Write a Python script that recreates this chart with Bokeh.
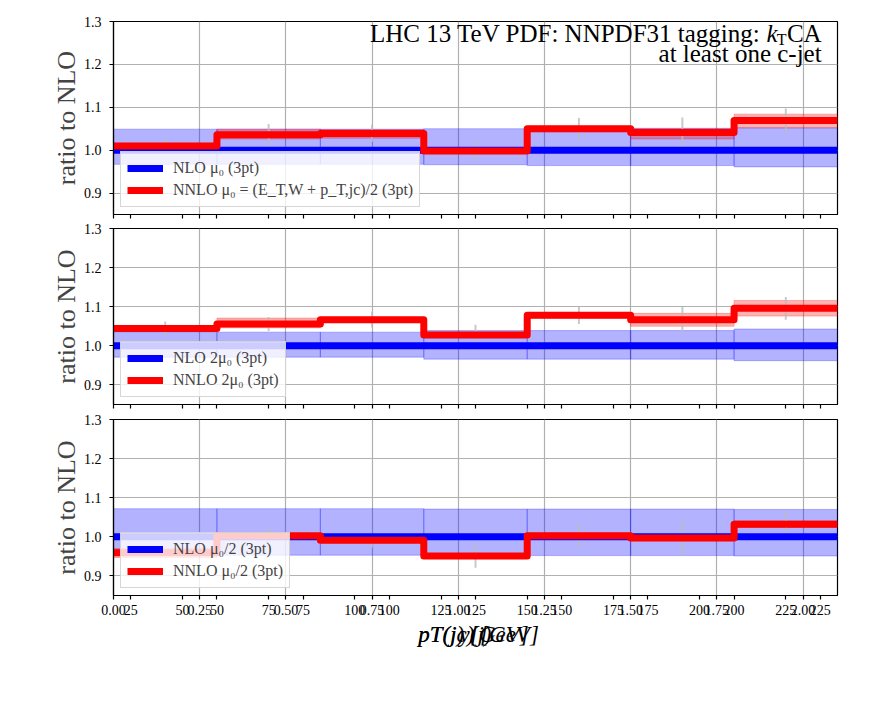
from bokeh.plotting import figure
from bokeh.layouts import column
from bokeh.models import Range1d, FixedTicker, PrintfTickFormatter, Label, Legend, LegendItem
from bokeh.core.properties import value
from bokeh.embed import file_html
from bokeh.resources import INLINE

FONT = "Liberation Serif"

# ---------------- data ----------------
bin_edges = [0.0, 0.3, 0.6, 0.9, 1.2, 1.5, 1.8, 2.1]

# panel 1: mu0
nlo1 = [1.0, 1.0, 1.0, 1.0, 1.0, 1.0, 1.0]
nlo1_lo = [0.967, 0.967, 0.967, 0.966, 0.964, 0.964, 0.961]
nlo1_hi = [1.049, 1.049, 1.049, 1.050, 1.051, 1.051, 1.052]
nnlo1 = [1.010, 1.036, 1.039, 0.998, 1.050, 1.041, 1.069]
nnlo1_lo = [1.004, 1.026, 1.028, 0.992, 1.043, 1.026, 1.052]
nnlo1_hi = [1.016, 1.049, 1.048, 1.005, 1.056, 1.050, 1.084]
nnlo1_err = [0.017, 0.025, 0.020, 0.023, 0.025, 0.035, 0.028]

# panel 2: 2 mu0
nlo2 = [1.0, 1.0, 1.0, 1.0, 1.0, 1.0, 1.0]
nlo2_lo = [0.971, 0.971, 0.971, 0.966, 0.966, 0.966, 0.962]
nlo2_hi = [1.035, 1.035, 1.035, 1.039, 1.039, 1.039, 1.043]
nnlo2 = [1.044, 1.056, 1.067, 1.028, 1.078, 1.067, 1.096]
nnlo2_lo = [1.038, 1.046, 1.061, 1.021, 1.071, 1.050, 1.076]
nnlo2_hi = [1.050, 1.071, 1.073, 1.035, 1.085, 1.083, 1.116]
nnlo2_err = [0.018, 0.018, 0.020, 0.026, 0.022, 0.033, 0.029]

# panel 3: mu0/2
nlo3 = [1.0, 1.0, 1.0, 1.0, 1.0, 1.0, 1.0]
nlo3_lo = [0.953, 0.953, 0.953, 0.952, 0.952, 0.952, 0.951]
nlo3_hi = [1.072, 1.072, 1.072, 1.071, 1.071, 1.071, 1.070]
nnlo3 = [0.959, 1.003, 0.991, 0.951, 1.003, 0.997, 1.032]
nnlo3_lo = [0.947, 0.998, 0.985, 0.945, 0.996, 0.990, 1.024]
nnlo3_hi = [0.970, 1.006, 0.995, 0.956, 1.010, 1.004, 1.041]
nnlo3_err = [0.015, 0.020, 0.018, 0.030, 0.030, 0.045, 0.030]

legend_nlo = ["NLO μ₀ (3pt)", "NLO 2μ₀ (3pt)", "NLO μ₀/2 (3pt)"]
legend_nnlo = ["NNLO μ₀ = (E_T,W + p_T,jc)/2 (3pt)", "NNLO 2μ₀ (3pt)", "NNLO μ₀/2 (3pt)"]

y_ticks = [0.9, 1.0, 1.1, 1.2, 1.3]
y_range = (0.85, 1.3)

# x tick labels: rapidity axis plus two overlaid pT axes (left over in the figure)
rap_ticks = [0.0, 0.25, 0.5, 0.75, 1.0, 1.25, 1.5, 1.75, 2.0]
ptB_ticks = [25, 50, 75, 100, 125, 150, 175, 200, 225]
ptB_range = (20, 230)
ptC_ticks = [50, 75, 100, 125, 150, 175, 200, 225]
ptC_range = (30, 240)

title_line1 = "LHC 13 TeV PDF: NNPDF31 tagging:"
title_k = "k"
title_sub = "T"
title_end = "CA"
title_line2 = "at least one c-jet"
xlabels = ["pT(j) [GeV]", "pT(jc) [GeV]", "y(j)"]
ylabel = "ratio to NLO"

# ---------------- tick mapping ----------------
x0, x1 = bin_edges[0], bin_edges[-1]


def to_rap(v, rng):
    return x0 + (v - rng[0]) / (rng[1] - rng[0]) * (x1 - x0)


tick_pos = []
tick_lab = {}
for t in rap_ticks:
    tick_pos.append(t)
    tick_lab[t] = "%.2f" % t
for t in ptB_ticks:
    p_ = to_rap(t, ptB_range)
    if x0 <= p_ <= x1:
        tick_pos.append(p_)
        tick_lab[p_] = str(t)
for t in ptC_ticks:
    p_ = to_rap(t, ptC_range)
    if x0 <= p_ <= x1:
        tick_pos.append(p_)
        tick_lab[p_] = str(t)
empty_lab = {k: "" for k in tick_lab}

centers = [(a + b) / 2 for a, b in zip(bin_edges[:-1], bin_edges[1:])]

LEFT = 113
FW = 724
RIGHT = 27


def panel(frame_h, top, bottom, nlo, nlo_lo, nlo_hi, nnlo, nnlo_lo, nnlo_hi, nnlo_err,
          lab_nlo, lab_nnlo, show_labels):
    p = figure(frame_width=FW, frame_height=frame_h,
               min_border_left=LEFT, min_border_right=RIGHT,
               min_border_top=top, min_border_bottom=bottom,
               x_range=Range1d(x0, x1), y_range=Range1d(*y_range),
               output_backend="svg", toolbar_location=None,
               background_fill_color="white", border_fill_color="white")
    p.outline_line_color = "black"
    p.outline_line_width = 1.2
    p.outline_line_alpha = 1.0

    # grid
    p.xgrid.ticker = FixedTicker(ticks=rap_ticks)
    p.ygrid.ticker = FixedTicker(ticks=y_ticks)
    for g in (p.xgrid, p.ygrid):
        g.grid_line_color = "#b0b0b0"
        g.grid_line_width = 1.2

    # axes
    p.xaxis.ticker = FixedTicker(ticks=tick_pos)
    p.yaxis.ticker = FixedTicker(ticks=y_ticks)
    p.yaxis.formatter = PrintfTickFormatter(format="%.1f")
    for ax in (p.xaxis, p.yaxis):
        ax.axis_line_color = "black"
        ax.axis_line_width = 1.2
        ax.major_tick_line_color = "black"
        ax.major_tick_line_width = 1.2
        ax.major_tick_out = 4
        ax.major_tick_in = 0
        ax.minor_tick_line_color = None
        ax.major_label_text_font = FONT
        ax.major_label_text_color = "black"
        ax.major_label_text_font_size = "14px"
    p.yaxis.major_label_standoff = 8
    p.yaxis.axis_label = ylabel
    p.yaxis.axis_label_text_font = FONT
    p.yaxis.axis_label_text_font_size = "26px"
    p.yaxis.axis_label_text_font_style = "normal"
    p.yaxis.axis_label_standoff = 0
    if show_labels:
        p.xaxis.major_label_overrides = tick_lab
        p.xaxis.major_label_standoff = 5
    else:
        p.xaxis.major_label_overrides = empty_lab
        p.xaxis.major_label_standoff = 0

    lefts = bin_edges[:-1]
    rights = bin_edges[1:]
    # bands
    p.quad(left=lefts, right=rights, bottom=nlo_lo, top=nlo_hi,
           fill_color="blue", fill_alpha=0.3, line_color="blue", line_alpha=0.25, line_width=1)
    p.quad(left=lefts, right=rights, bottom=nnlo_lo, top=nnlo_hi,
           fill_color="red", fill_alpha=0.3, line_color="red", line_alpha=0.25, line_width=1)
    # stat errors
    p.segment(x0=centers, x1=centers,
              y0=[v - e for v, e in zip(nnlo, nnlo_err)],
              y1=[v + e for v, e in zip(nnlo, nnlo_err)],
              line_color="#bbbbbb", line_width=2, line_alpha=0.8)
    # lines
    r_nlo = p.step(x=bin_edges, y=list(nlo) + [nlo[-1]], mode="after",
                   line_color="blue", line_width=7, line_join="round")
    r_nnlo = p.step(x=bin_edges, y=list(nnlo) + [nnlo[-1]], mode="after",
                    line_color="red", line_width=7, line_join="round")

    leg = Legend(items=[LegendItem(label=lab_nlo, renderers=[r_nlo]),
                        LegendItem(label=lab_nnlo, renderers=[r_nnlo])],
                 location="bottom_left")
    leg.label_text_font = FONT
    leg.label_text_font_size = "16px"
    leg.glyph_width = 36
    leg.glyph_height = 20
    leg.label_standoff = 10
    leg.label_height = 20
    leg.spacing = 2
    leg.padding = 6
    leg.margin = 7
    leg.background_fill_color = "white"
    leg.background_fill_alpha = 0.8
    leg.border_line_color = "#cccccc"
    leg.border_line_alpha = 0.8
    p.add_layout(leg)
    return p


p1 = panel(193, 21, 7, nlo1, nlo1_lo, nlo1_hi, nnlo1, nnlo1_lo, nnlo1_hi, nnlo1_err,
           legend_nlo[0], legend_nnlo[0], False)
p2 = panel(176, 7, 7, nlo2, nlo2_lo, nlo2_hi, nnlo2, nnlo2_lo, nnlo2_hi, nnlo2_err,
           legend_nlo[1], legend_nnlo[1], False)
p3 = panel(176, 8, 20, nlo3, nlo3_lo, nlo3_hi, nnlo3, nnlo3_lo, nnlo3_hi, nnlo3_err,
           legend_nlo[2], legend_nnlo[2], True)

# title text (top panel), right aligned inside frame
tx = 2.054
for txt, size, off, dy, style in [(title_end, "25px", 0, 0.0, "normal"),
                                  (title_sub, "16px", -35, -0.013, "normal"),
                                  (title_k, "25px", -44, 0.0, "italic"),
                                  (title_line1, "25px", -61, 0.0, "normal")]:
    p1.add_layout(Label(x=tx, y=1.272 + dy, text=txt, x_offset=off, text_align="right",
                        text_baseline="middle", text_font=FONT, text_font_size=size,
                        text_font_style=style, text_color="black"))
p1.add_layout(Label(x=tx, y=1.226, text=title_line2, text_align="right",
                    text_baseline="middle", text_font=FONT, text_font_size="25px",
                    text_color="black"))

# overlapped x-axis label texts, in a strip below the bottom panel
p4 = figure(frame_width=FW, frame_height=34, min_border_left=LEFT, min_border_right=RIGHT,
            min_border_top=0, min_border_bottom=0,
            x_range=Range1d(x0, x1), y_range=Range1d(0, 1),
            output_backend="svg", toolbar_location=None)
p4.axis.visible = False
p4.grid.visible = False
p4.outline_line_color = None
p4.text(x=[(x0 + x1) / 2] * len(xlabels), y=[0.5] * len(xlabels), text=xlabels,
        x_offset=[-2, 3, 0], text_align="center", text_baseline="middle",
        text_font=value(FONT), text_font_size="23px", text_font_style="italic",
        text_color="black")

layout = column(p1, p2, p3, p4)
open("out.html", "w").write(file_html(layout, INLINE))
